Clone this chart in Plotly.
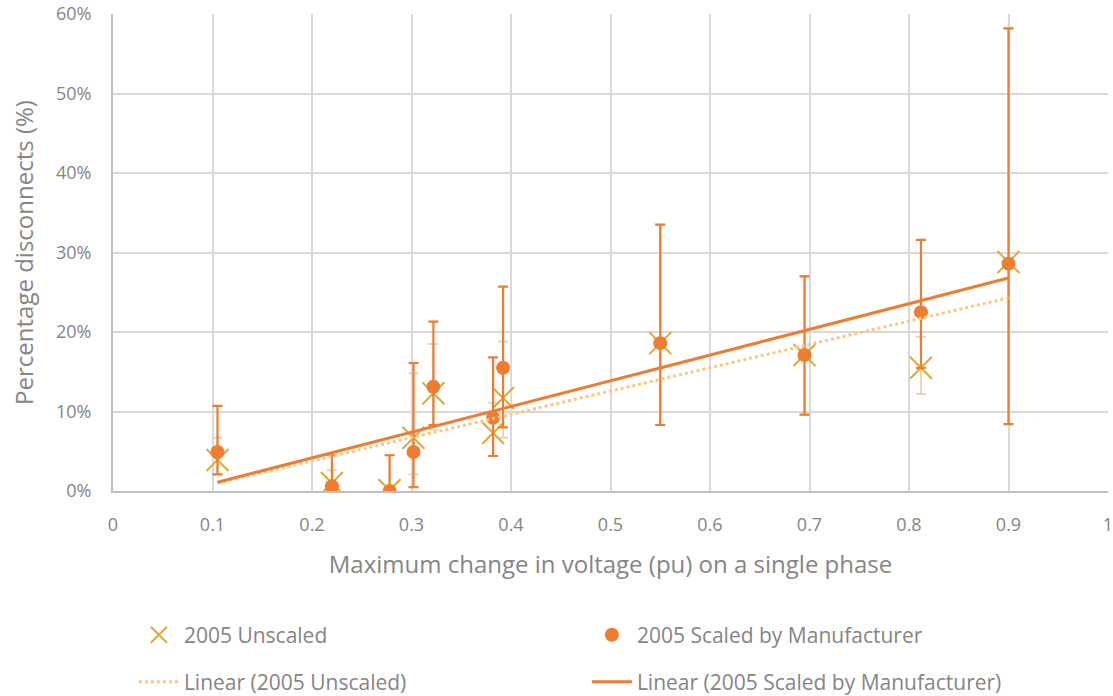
import plotly.graph_objects as go

# Maximum change in voltage (pu) on a single phase
volt_change = [0.105, 0.22, 0.278, 0.302, 0.322, 0.382, 0.392, 0.55, 0.695, 0.812, 0.9]

# 2005 Scaled by Manufacturer (%), with error bar bounds
scaled = [4.9, 0.6, 0.0, 4.9, 13.1, 9.2, 15.5, 18.6, 17.1, 22.5, 28.6]
scaled_hi = [10.7, 4.5, 4.5, 16.1, 21.3, 16.8, 25.7, 33.5, 27.0, 31.6, 58.2]
scaled_lo = [2.1, 0.0, 0.0, 0.5, 8.3, 4.4, 8.0, 8.3, 9.6, 15.5, 8.4]

# 2005 Unscaled (%), with error bar bounds
unscaled = [3.9, 1.0, 0.1, 6.7, 12.3, 7.3, 11.7, 18.6, 17.1, 15.5, 28.8]
unscaled_hi = [6.7, 2.6, 4.5, 14.8, 18.5, 11.1, 18.8, 33.5, 27.0, 19.4, 58.2]
unscaled_lo = [2.1, 0.0, 0.0, 2.1, 7.7, 4.4, 6.7, 8.3, 9.6, 12.2, 8.4]

# Linear trendlines (end points as drawn)
trend_x = [0.105, 0.9]
trend_scaled = [1.1, 26.8]
trend_unscaled = [1.0, 24.3]

ORANGE = "#ED7D31"
GOLD = "#DDAA33"
TAN = "#E3D7B8"
LIGHT = "#FFC77D"
GREY = "#858585"
FONT = "Open Sans, sans-serif"


def bars(y, hi, lo):
    return [h - v for v, h in zip(y, hi)], [v - l for v, l in zip(y, lo)]


fig = go.Figure()

up, dn = bars(unscaled, unscaled_hi, unscaled_lo)
fig.add_trace(go.Scatter(
    x=volt_change, y=unscaled, mode="markers", name="2005 Unscaled",
    marker=dict(symbol="x-thin", size=22, line=dict(color=GOLD, width=2)),
    error_y=dict(type="data", array=up, arrayminus=dn, color=TAN, thickness=2, width=5),
    legend="legend",
))

up, dn = bars(scaled, scaled_hi, scaled_lo)
fig.add_trace(go.Scatter(
    x=volt_change, y=scaled, mode="markers", name="2005 Scaled by Manufacturer",
    marker=dict(symbol="circle", size=14, color=ORANGE),
    error_y=dict(type="data", array=up, arrayminus=dn, color=ORANGE, thickness=2.2, width=5),
    legend="legend",
))

fig.add_trace(go.Scatter(
    x=trend_x, y=trend_unscaled, mode="lines", name="Linear (2005 Unscaled)",
    line=dict(color=LIGHT, width=3, dash="dot"),
    legend="legend2",
))
fig.add_trace(go.Scatter(
    x=trend_x, y=trend_scaled, mode="lines", name="Linear (2005 Scaled by Manufacturer)",
    line=dict(color=ORANGE, width=3),
    legend="legend2",
))

leg = dict(orientation="h", xanchor="left", x=0.021, yanchor="middle", yref="container",
           entrywidth=398, itemwidth=40, font=dict(family=FONT, size=21, color=GREY),
           bgcolor="rgba(0,0,0,0)")

fig.update_layout(
    width=1113,
    height=696,
    paper_bgcolor="white",
    plot_bgcolor="white",
    font=dict(family=FONT, size=18, color=GREY),
    margin=dict(l=113, r=5, t=14, b=205),
    showlegend=True,
    legend=dict(leg, y=0.0876),
    legend2=dict(leg, y=0.0201),
)

fig.update_xaxes(
    range=[0, 1], dtick=0.1, tick0=0, automargin=False, ticklabeloverflow="allow",
    showgrid=True, gridcolor="#D9D9D9", gridwidth=2,
    showline=True, linecolor="#BFBFBF", linewidth=2,
    zeroline=False, ticks="", ticklabelstandoff=16,
    title=dict(text="Maximum change in voltage (pu) on a single phase",
               font=dict(size=24, color=GREY), standoff=22),
)
fig.update_yaxes(
    range=[0, 60], dtick=10, ticksuffix="%", automargin=False, ticklabeloverflow="allow",
    showgrid=True, gridcolor="#D9D9D9", gridwidth=2,
    showline=True, linecolor="#BFBFBF", linewidth=2,
    zeroline=False, ticks="", ticklabelstandoff=16,
    title=dict(text="Percentage disconnects (%)", font=dict(size=24, color=GREY), standoff=16),
)

# drop the default page margin so the figure fills the window exactly
fig.write_html(
    "out.html",
    config={"displayModeBar": False},
    post_script="document.body.style.margin = '0';",
)
